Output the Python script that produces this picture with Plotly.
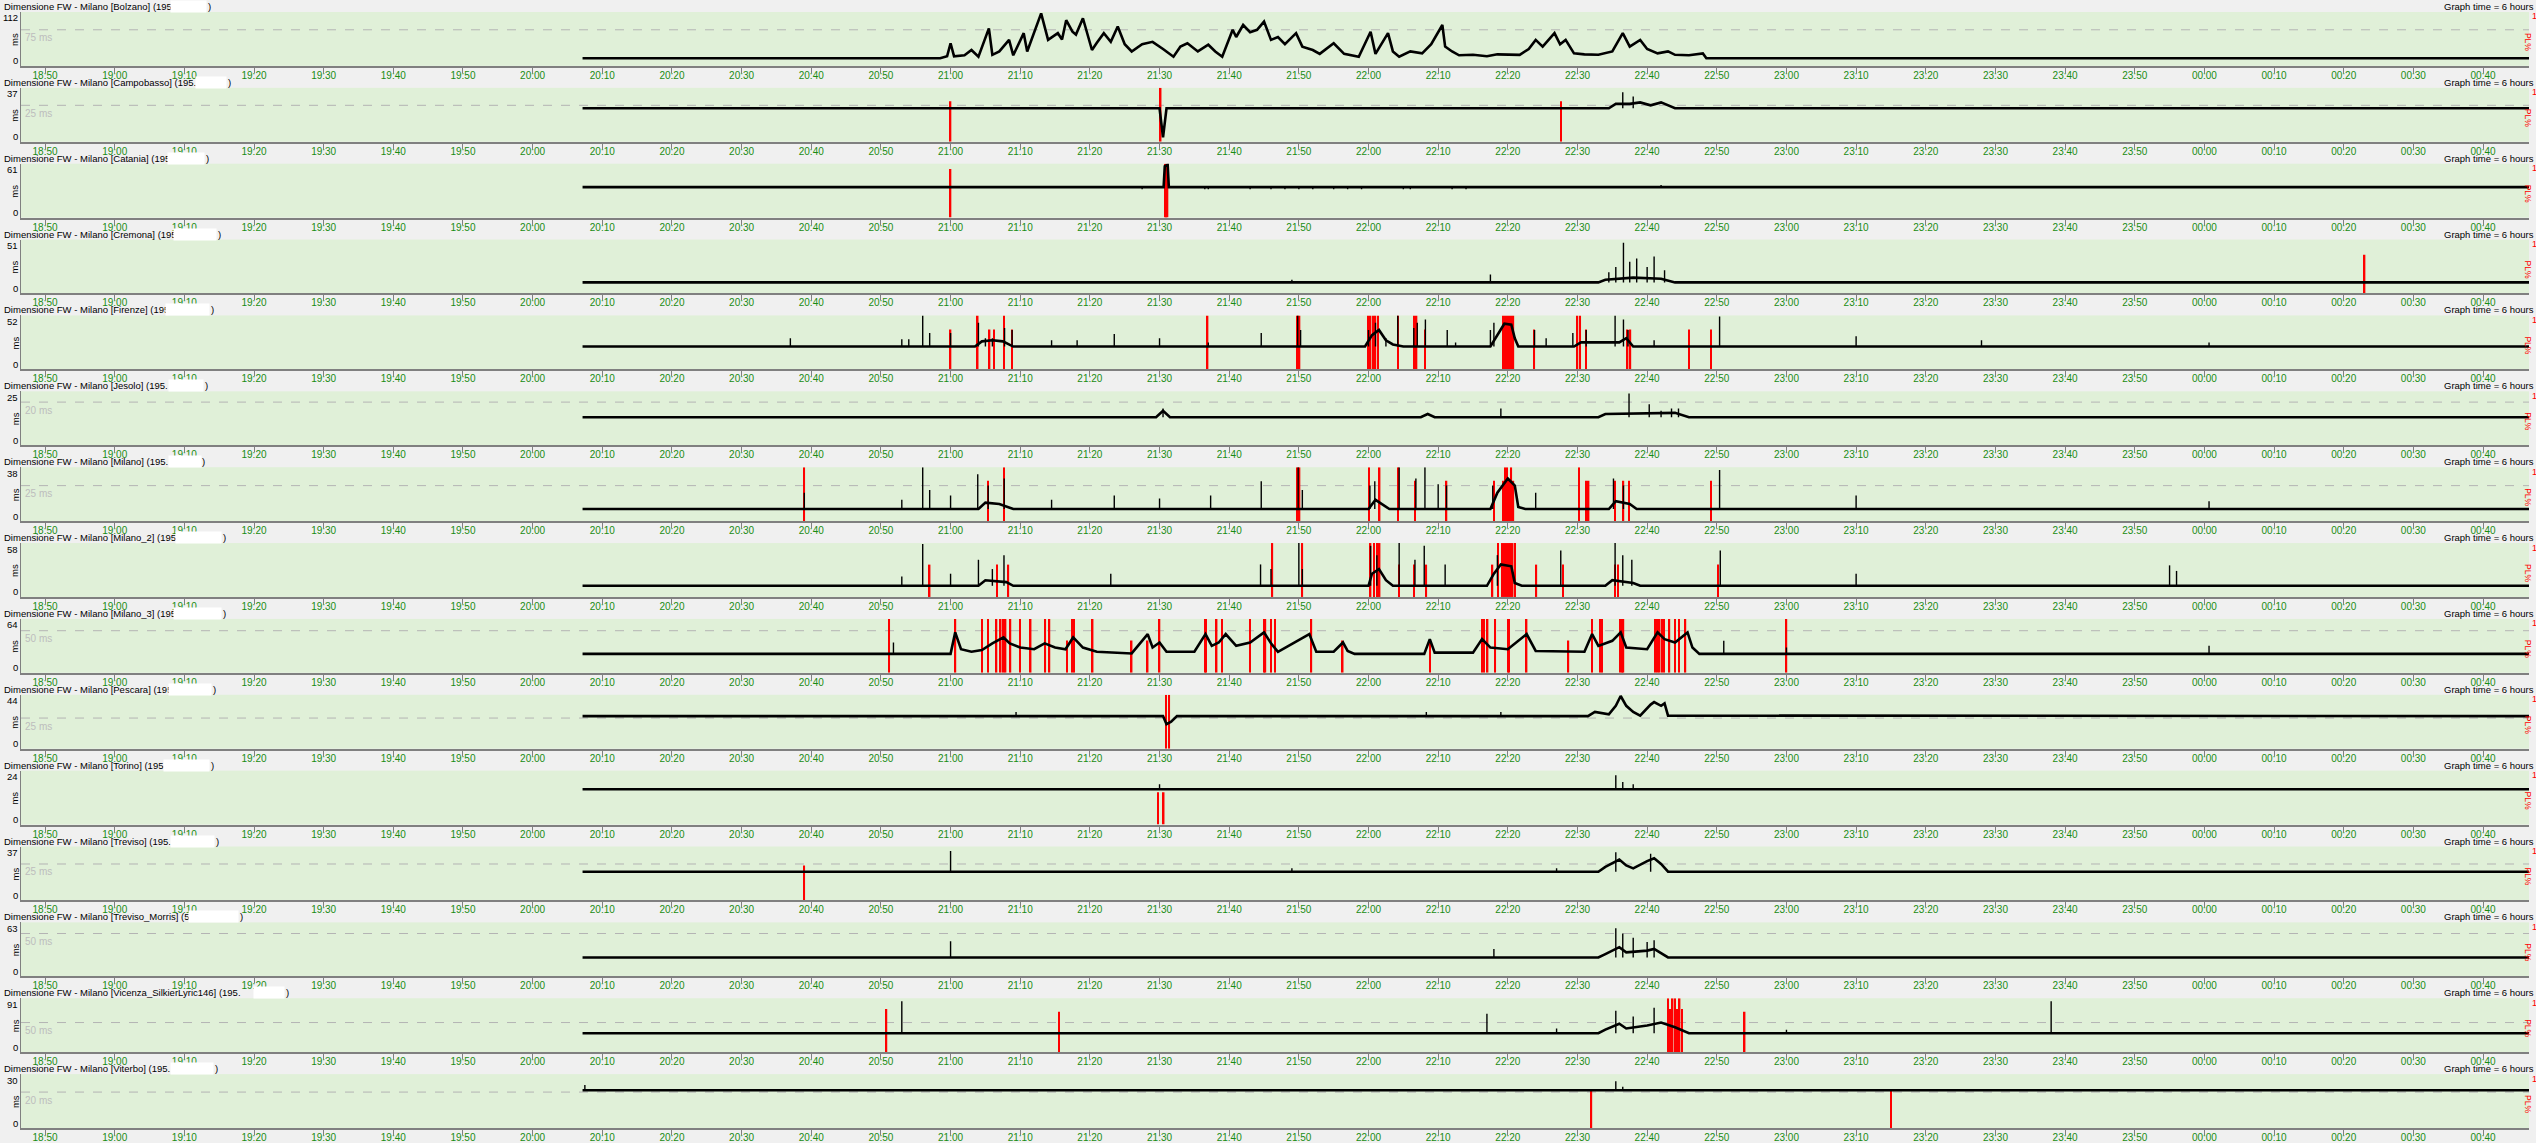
import plotly.graph_objects as go

FONT = "Liberation Sans, Arial, sans-serif"
W, H = 2536, 1143
X0, X1 = "2024-01-01 18:46:33", "2024-01-02 00:46:36"
T_START, T_END = "20:07:10", "00:46:40"

# ---------------- panel meta ----------------
NAMES = ["Bolzano", "Campobasso", "Catania", "Cremona", "Firenze", "Jesolo", "Milano",
         "Milano_2", "Milano_3", "Pescara", "Torino", "Treviso", "Treviso_Morris",
         "Vicenza_SilkierLyric146", "Viterbo"]
IP_PREFIX = ["(195.", "(195.:", "(195.", "(195.", "(195.", "(195.", "(195.", "(195.",
             "(195.", "(195.", "(195", "(195.", "(5.", "(195.", "(195."]
Y_MAX = [112, 37, 61, 51, 52, 25, 38, 58, 64, 44, 24, 37, 63, 91, 30]
REF_MS = [75, 25, None, None, None, 20, 25, None, 50, 25, None, 25, 50, 50, 20]
BASE_MS = [16, 23, 34.5, 10.5, 22, 13, 8.5, 12, 22.5, 26.6, 15.7, 19.7, 22, 32, 21]

# ---------------- latency lines (keypoints) ----------------
BOLZANO_T = [T_START, "20:58:30", "20:59:30", "21:00:00", "21:00:30", "21:02:00", "21:03:00", "21:04:00",
             "21:05:30", "21:06:00", "21:07:00", "21:08:24", "21:09:00", "21:10:30", "21:11:00", "21:12:00",
             "21:13:00", "21:14:00", "21:15:24", "21:16:00", "21:16:36", "21:17:30", "21:18:00", "21:19:00",
             "21:20:18", "21:21:00", "21:22:00", "21:23:00", "21:24:00", "21:25:00", "21:26:00", "21:27:30",
             "21:29:00", "21:30:30", "21:32:00", "21:33:00", "21:34:00", "21:35:30", "21:37:00", "21:38:00",
             "21:39:00", "21:40:30", "21:41:00", "21:42:00", "21:43:00", "21:44:00", "21:45:00", "21:46:00",
             "21:47:00", "21:48:00", "21:49:36", "21:50:30", "21:52:00", "21:53:00", "21:55:00", "21:56:30",
             "21:58:36", "22:00:18", "22:01:00", "22:02:48", "22:03:30", "22:04:24", "22:06:00", "22:07:42",
             "22:09:00", "22:10:36", "22:11:00", "22:12:00", "22:13:00", "22:15:00", "22:17:00", "22:18:30",
             "22:20:00", "22:21:42", "22:23:00", "22:24:00", "22:25:00", "22:26:42", "22:27:30", "22:28:18",
             "22:29:30", "22:31:00", "22:33:00", "22:35:00", "22:36:30", "22:37:30", "22:39:00", "22:40:00",
             "22:41:30", "22:43:00", "22:44:00", "22:46:00", "22:48:00", "22:48:30", T_END]
BOLZANO_V = [16, 16, 20, 47, 20, 22, 33, 19,
             78, 23, 30, 54, 22, 68, 30, 71,
             109, 54, 68, 55, 95, 71, 65, 99,
             33, 48, 68, 50, 82, 45, 30, 45,
             50, 35, 19, 40, 47, 30, 44, 30,
             19, 75, 60, 85, 70, 75, 92, 54,
             60, 45, 68, 40, 33, 25, 47, 25,
             19, 71, 25, 68, 30, 19, 30, 26,
             45, 85, 40, 30, 22, 23, 20, 24,
             23, 23, 35, 54, 40, 68, 45, 54,
             26, 24, 23, 30, 68, 40, 54, 35,
             26, 30, 23, 22, 26, 16, 16]
CAMPOBASSO_T = [T_START, "21:30:00", "21:30:30", "21:31:00", "22:34:30", "22:35:30", "22:37:30", "22:39:00",
                "22:40:30", "22:42:00", "22:44:00", T_END]
CAMPOBASSO_V = [23, 23, 3, 23, 23, 26, 26, 27, 25, 27, 23, 23]
CATANIA_T = [T_START, "21:30:35", "21:30:45", "21:31:10", "21:31:20", T_END]
CATANIA_V = [34.5, 34.5, 58, 60, 34.5, 34.5]
CREMONA_T = [T_START, "22:33:00", "22:34:00", "22:38:00", "22:42:00", "22:44:00", T_END]
CREMONA_V = [10.5, 10.5, 13, 15, 14, 10.5, 10.5]
FIRENZE_T = [T_START, "21:03:30", "21:04:30", "21:06:00", "21:07:30", "21:09:00", "21:59:30", "22:00:30",
             "22:01:30", "22:02:30", "22:03:30", "22:05:00", "22:17:30", "22:18:30", "22:19:30", "22:20:30",
             "22:21:00", "22:21:30", "22:29:30", "22:30:30", "22:36:00", "22:37:00", "22:38:00", T_END]
FIRENZE_V = [22, 22, 27, 28, 27, 22, 22, 33, 38, 28, 24, 22, 22, 33, 44, 43, 30, 22, 22, 26, 26, 30, 22, 22]
JESOLO_T = [T_START, "21:29:30", "21:30:30", "21:31:30", "22:07:30", "22:08:30", "22:09:30", "22:33:00",
            "22:34:00", "22:44:00", "22:46:00", T_END]
JESOLO_V = [13, 13, 16, 13, 13, 14.5, 13, 13, 14.5, 15, 13, 13]
MILANO_T = [T_START, "21:04:00", "21:05:00", "21:07:00", "21:09:00", "22:00:00", "22:01:00", "22:02:00",
            "22:03:00", "22:17:30", "22:18:30", "22:20:00", "22:21:00", "22:21:30", "22:22:30", "22:34:30",
            "22:35:30", "22:37:30", "22:38:30", T_END]
MILANO_V = [8.5, 8.5, 13, 12, 8.5, 8.5, 15, 12, 8.5, 8.5, 20, 30, 25, 10, 8.5, 8.5, 14, 12, 8.5, 8.5]
MILANO2_T = [T_START, "21:04:00", "21:05:00", "21:08:00", "21:09:00", "22:00:00", "22:00:30", "22:01:30",
             "22:02:30", "22:03:30", "22:17:00", "22:18:00", "22:19:00", "22:20:30", "22:21:00", "22:22:00",
             "22:34:00", "22:35:00", "22:38:00", "22:39:00", T_END]
MILANO2_V = [12, 12, 18, 16, 12, 12, 25, 30, 18, 12, 12, 25, 35, 33, 15, 12, 12, 18, 15, 12, 12]
MILANO3_T = [T_START, "21:00:00", "21:00:40", "21:01:30", "21:03:00", "21:04:30", "21:06:00", "21:07:36",
             "21:08:30", "21:10:00", "21:12:00", "21:13:30", "21:15:00", "21:16:30", "21:17:36", "21:19:00",
             "21:21:00", "21:26:00", "21:28:18", "21:29:00", "21:30:00", "21:31:00", "21:35:00", "21:36:36",
             "21:37:30", "21:38:30", "21:39:30", "21:41:00", "21:43:00", "21:45:00", "21:46:00", "21:47:00",
             "21:51:30", "21:52:30", "21:55:00", "21:56:20", "21:57:00", "21:58:00", "22:08:00", "22:08:48",
             "22:09:30", "22:15:00", "22:16:18", "22:17:30", "22:20:00", "22:22:42", "22:24:00", "22:31:00",
             "22:32:06", "22:33:00", "22:35:00", "22:36:12", "22:37:00", "22:40:00", "22:41:30", "22:42:30",
             "22:44:00", "22:45:48", "22:46:30", "22:47:30", T_END]
MILANO3_V = [22.5, 22.5, 48, 28, 25, 27, 35, 42,
             35, 30, 28, 35, 30, 28, 42, 30,
             25, 23, 46, 30, 36, 25, 25, 46,
             32, 36, 46, 32, 36, 48, 35, 25,
             46, 25, 25, 36, 26, 22.5, 22.5, 40,
             24, 24, 40, 30, 28, 46, 26, 25,
             46, 32, 38, 48, 30, 28, 48, 40,
             36, 48, 30, 22.5, 22.5]
PESCARA_T = [T_START, "21:30:30", "21:31:00", "21:31:40", "21:32:30", "22:31:30", "22:32:30", "22:34:30",
             "22:35:30", "22:36:12", "22:37:00", "22:38:00", "22:39:00", "22:40:30", "22:41:00", "22:42:00",
             "22:42:30", "22:43:00", T_END]
PESCARA_V = [26.6, 26.6, 20, 22, 26.6, 26.6, 30, 28, 35, 43, 35, 30, 27, 36, 38, 35, 37, 27, 26.6]
TORINO_T = [T_START, T_END]
TORINO_V = [15.7, 15.7]
TREVISO_T = [T_START, "22:33:00", "22:34:00", "22:36:00", "22:37:00", "22:38:00", "22:40:00", "22:41:00",
             "22:42:00", "22:43:00", T_END]
TREVISO_V = [19.7, 19.7, 23, 28, 24, 22, 27, 29, 25, 19.7, 19.7]
MORRIS_T = [T_START, "22:33:00", "22:34:00", "22:36:00", "22:37:00", "22:40:00", "22:41:00", "22:43:00", T_END]
MORRIS_V = [22, 22, 26, 34, 28, 30, 32, 22, 22]
VICENZA_T = [T_START, "22:33:00", "22:34:00", "22:36:00", "22:37:00", "22:40:00", "22:42:00", "22:44:00",
             "22:46:00", T_END]
VICENZA_V = [32, 32, 38, 48, 40, 45, 50, 42, 32, 32]
VITERBO_T = [T_START, T_END]
VITERBO_V = [21, 21]

# ---------------- isolated latency spikes ----------------
BOLZANO_SPIKE_T, BOLZANO_SPIKE_V = [], []
CAMPOBASSO_SPIKE_T = ["22:36:30", "22:38:00"]
CAMPOBASSO_SPIKE_V = [34, 31]
CATANIA_SPIKE_T = ["21:27:30", "21:36:30", "21:37:00", "21:43:00", "21:46:00", "21:48:00", "21:50:00",
                   "21:52:00", "21:55:00", "21:57:00", "21:59:00", "22:05:00", "22:06:00", "22:12:00",
                   "22:14:00", "22:42:00"]
CATANIA_SPIKE_V = [32, 32, 32, 32, 32, 32, 32, 32, 32, 32, 32, 32, 32, 32, 32, 37]
CREMONA_SPIKE_T = ["21:49:00", "22:17:30", "22:34:30", "22:35:30", "22:36:36", "22:37:30", "22:38:30",
                   "22:40:00", "22:41:00", "22:42:30"]
CREMONA_SPIKE_V = [13, 18, 20, 25, 48, 30, 33, 25, 35, 22]
FIRENZE_SPIKE_T = ["20:37:00", "20:53:00", "20:54:00", "20:56:00", "20:57:00", "21:00:00", "21:04:00",
                   "21:05:00", "21:06:00", "21:07:45", "21:08:50", "21:14:30", "21:18:10", "21:23:30",
                   "21:30:00", "21:37:00", "21:44:36", "21:49:50", "21:50:15", "22:00:00", "22:01:00",
                   "22:02:30", "22:04:12", "22:06:30", "22:07:00", "22:08:10", "22:11:18", "22:12:30",
                   "22:17:30", "22:18:00", "22:23:50", "22:25:30", "22:29:20", "22:31:15", "22:35:24",
                   "22:36:36", "22:37:15", "22:41:00", "22:50:24", "23:10:00", "23:28:00", "00:00:40"]
FIRENZE_SPIKE_V = [30, 29, 29, 52, 35, 35, 45, 30, 30, 40, 38, 28, 28, 34,
                   30, 26, 35, 52, 38, 38, 45, 30, 52, 40, 45, 48, 38, 26,
                   38, 45, 38, 30, 35, 38, 52, 48, 38, 28, 51, 32, 28, 26]
JESOLO_SPIKE_T = ["21:30:30", "22:19:00", "22:37:24", "22:40:18", "22:42:00", "22:43:30", "22:44:30"]
JESOLO_SPIKE_V = [17, 17, 24, 19, 16, 17, 17]
MILANO_SPIKE_T = ["20:39:00", "20:53:00", "20:56:00", "20:57:00", "21:00:00", "21:03:54", "21:05:24",
                  "21:07:42", "21:14:30", "21:23:30", "21:30:00", "21:37:20", "21:44:36", "21:49:54",
                  "21:50:30", "22:00:12", "22:00:54", "22:04:24", "22:06:48", "22:08:06", "22:10:00",
                  "22:11:12", "22:17:50", "22:24:00", "22:35:10", "22:36:36", "22:50:24", "23:10:00",
                  "00:00:40"]
MILANO_SPIKE_V = [20, 15, 38, 22, 18, 33, 25, 30, 15, 18, 16, 18, 28, 38,
                  22, 25, 28, 38, 30, 38, 26, 25, 25, 20, 30, 25, 36, 18, 14]
MILANO2_SPIKE_T = ["20:53:00", "20:56:00", "21:00:00", "21:04:00", "21:06:00", "21:07:40", "21:23:00",
                   "21:44:30", "21:46:00", "21:50:00", "21:50:30", "22:00:18", "22:01:12", "22:04:24",
                   "22:06:40", "22:08:00", "22:11:00", "22:18:30", "22:27:36", "22:35:24", "22:36:30",
                   "22:37:48", "22:50:30", "23:10:00", "23:55:00", "23:56:00"]
MILANO2_SPIKE_V = [22, 57, 25, 40, 30, 45, 25, 35, 30, 58, 30, 55, 45, 58,
                   40, 55, 35, 45, 50, 58, 45, 40, 50, 25, 34, 28]
MILANO3_SPIKE_T = ["20:51:48", "22:51:00", "23:00:00", "00:00:40"]
MILANO3_SPIKE_V = [36, 38, 30, 32]
PESCARA_SPIKE_T = ["21:09:24", "22:08:18", "22:19:00"]
PESCARA_SPIKE_V = [30, 30, 30]
TORINO_SPIKE_T = ["21:30:00", "22:35:30", "22:36:30", "22:38:00"]
TORINO_SPIKE_V = [18, 22, 19, 18]
TREVISO_SPIKE_T = ["21:00:00", "21:49:00", "22:27:00", "22:35:30", "22:40:30"]
TREVISO_SPIKE_V = [34, 22, 22, 33, 32]
MORRIS_SPIKE_T = ["21:00:00", "22:18:00", "22:35:30", "22:36:30", "22:38:00", "22:40:00", "22:41:00"]
MORRIS_SPIKE_V = [41, 32, 56, 50, 45, 40, 42]
VICENZA_SPIKE_T = ["20:53:00", "22:17:00", "22:27:00", "22:35:30", "22:38:00", "22:41:00", "23:00:00",
                   "23:38:00"]
VICENZA_SPIKE_V = [86, 65, 40, 70, 60, 75, 38, 86]
VITERBO_SPIKE_T = ["20:07:30", "22:35:30", "22:36:30"]
VITERBO_SPIKE_V = [24, 26, 23]

# ---------------- packet loss (PL%, 0..1) ----------------
BOLZANO_LOSS_T, BOLZANO_LOSS_H = [], []
CAMPOBASSO_LOSS_T = ["21:00:00", "21:30:10", "22:27:40"]
CAMPOBASSO_LOSS_H = [0.75, 1.0, 0.75]
CATANIA_LOSS_T = ["21:00:00", "21:30:45", "21:30:57", "21:31:09"]
CATANIA_LOSS_H = [0.9, 1.0, 1.0, 1.0]
CREMONA_LOSS_T = ["00:23:00"]
CREMONA_LOSS_H = [0.72]
FIRENZE_LOSS_T = ["21:00:00", "21:03:54", "21:05:36", "21:06:12", "21:07:42", "21:08:48", "21:36:54",
                  "21:49:48", "21:50:06", "21:59:54", "22:00:18", "22:00:42", "22:01:00", "22:01:24",
                  "22:04:12", "22:06:30", "22:06:54", "22:08:06", "22:19:18", "22:19:36", "22:19:54",
                  "22:20:12", "22:20:30", "22:20:48", "22:23:48", "22:30:00", "22:30:24", "22:31:12",
                  "22:37:12", "22:37:36", "22:46:00", "22:49:12"]
FIRENZE_LOSS_H = [0.74, 1.0, 0.74, 0.74, 1.0, 0.74, 1.0, 1.0, 1.0, 1.0, 1.0, 1.0, 1.0, 1.0,
                  1.0, 1.0, 1.0, 0.74, 1.0, 1.0, 1.0, 1.0, 1.0, 1.0, 0.74, 1.0, 1.0, 0.74,
                  0.74, 0.74, 0.74, 0.74]
JESOLO_LOSS_T, JESOLO_LOSS_H = [], []
MILANO_LOSS_T = ["20:39:00", "21:05:24", "21:07:42", "21:49:48", "21:50:06", "22:00:06", "22:01:36",
                 "22:04:12", "22:06:42", "22:11:12", "22:18:00", "22:19:18", "22:19:36", "22:19:54",
                 "22:20:12", "22:20:30", "22:20:48", "22:30:12", "22:31:12", "22:31:36", "22:35:24",
                 "22:36:36", "22:37:24", "22:49:12"]
MILANO_LOSS_H = [1.0, 0.75, 1.0, 1.0, 1.0, 1.0, 1.0, 1.0, 0.75, 0.75, 0.75, 0.75, 1.0, 1.0,
                 0.75, 1.0, 0.75, 1.0, 0.75, 0.75, 0.75, 0.75, 0.75, 0.75]
MILANO2_LOSS_T = ["20:57:00", "21:06:42", "21:08:18", "21:46:12", "21:50:30", "22:00:18", "22:00:48",
                  "22:01:12", "22:01:36", "22:04:24", "22:06:30", "22:08:18", "22:17:48", "22:18:36",
                  "22:19:12", "22:19:30", "22:19:48", "22:20:06", "22:20:24", "22:20:42", "22:21:00",
                  "22:24:06", "22:27:54", "22:35:24", "22:35:48", "22:50:12"]
MILANO2_LOSS_H = [0.6, 0.6, 0.6, 1.0, 1.0, 1.0, 1.0, 1.0, 1.0, 0.6, 0.6, 0.6, 0.6, 1.0,
                  1.0, 1.0, 1.0, 1.0, 1.0, 1.0, 1.0, 0.6, 0.6, 0.6, 0.6, 0.6]
MILANO3_LOSS_T = ["20:51:12", "21:00:42", "21:04:30", "21:05:24", "21:06:36", "21:07:12", "21:07:36",
                  "21:07:54", "21:08:36", "21:10:00", "21:11:30", "21:13:36", "21:14:12", "21:16:42",
                  "21:17:30", "21:17:42", "21:20:24", "21:26:00", "21:28:18", "21:30:00", "21:36:30",
                  "21:36:42", "21:38:12", "21:39:00", "21:43:00", "21:45:00", "21:45:12", "21:46:00",
                  "21:46:36", "21:51:48", "21:56:18", "22:08:48", "22:16:18", "22:16:36", "22:17:06",
                  "22:18:12", "22:20:00", "22:20:12", "22:22:42", "22:28:42", "22:32:06", "22:33:18",
                  "22:33:30", "22:36:12", "22:36:24", "22:36:36", "22:41:12", "22:41:30", "22:41:48",
                  "22:42:06", "22:42:24", "22:43:12", "22:44:00", "22:44:36", "22:45:30", "23:00:00"]
MILANO3_LOSS_H = [1.0, 1.0, 1.0, 1.0, 1.0, 1.0, 1.0, 1.0, 1.0, 1.0, 1.0, 1.0, 1.0, 0.6,
                  1.0, 1.0, 1.0, 0.6, 0.6, 1.0, 1.0, 1.0, 1.0, 1.0, 1.0, 1.0, 1.0, 1.0,
                  1.0, 1.0, 0.6, 0.6, 1.0, 1.0, 1.0, 1.0, 1.0, 1.0, 1.0, 0.6, 1.0, 1.0,
                  1.0, 1.0, 1.0, 1.0, 1.0, 1.0, 1.0, 1.0, 1.0, 1.0, 1.0, 1.0, 1.0, 1.0]
PESCARA_LOSS_T = ["21:30:54", "21:31:24"]
PESCARA_LOSS_H = [1.0, 1.0]
TORINO_LOSS_T = ["21:29:48", "21:30:36"]
TORINO_LOSS_H = [0.6, 0.6]
TREVISO_LOSS_T = ["20:39:00"]
TREVISO_LOSS_H = [0.65]
MORRIS_LOSS_T, MORRIS_LOSS_H = [], []
VICENZA_LOSS_T = ["20:50:48", "21:15:36", "22:43:00", "22:43:20", "22:43:40", "22:44:00", "22:44:20",
                  "22:44:40", "22:45:00", "22:54:00"]
VICENZA_LOSS_H = [0.8, 0.75, 1.0, 0.8, 1.0, 1.0, 0.8, 1.0, 0.8, 0.75]
VITERBO_LOSS_T = ["22:32:00", "23:15:00"]
VITERBO_LOSS_H = [0.7, 0.7]

LINES = [(BOLZANO_T, BOLZANO_V), (CAMPOBASSO_T, CAMPOBASSO_V), (CATANIA_T, CATANIA_V), (CREMONA_T, CREMONA_V),
         (FIRENZE_T, FIRENZE_V), (JESOLO_T, JESOLO_V), (MILANO_T, MILANO_V), (MILANO2_T, MILANO2_V),
         (MILANO3_T, MILANO3_V), (PESCARA_T, PESCARA_V), (TORINO_T, TORINO_V), (TREVISO_T, TREVISO_V),
         (MORRIS_T, MORRIS_V), (VICENZA_T, VICENZA_V), (VITERBO_T, VITERBO_V)]
SPIKES = [(BOLZANO_SPIKE_T, BOLZANO_SPIKE_V), (CAMPOBASSO_SPIKE_T, CAMPOBASSO_SPIKE_V),
          (CATANIA_SPIKE_T, CATANIA_SPIKE_V), (CREMONA_SPIKE_T, CREMONA_SPIKE_V),
          (FIRENZE_SPIKE_T, FIRENZE_SPIKE_V), (JESOLO_SPIKE_T, JESOLO_SPIKE_V),
          (MILANO_SPIKE_T, MILANO_SPIKE_V), (MILANO2_SPIKE_T, MILANO2_SPIKE_V),
          (MILANO3_SPIKE_T, MILANO3_SPIKE_V), (PESCARA_SPIKE_T, PESCARA_SPIKE_V),
          (TORINO_SPIKE_T, TORINO_SPIKE_V), (TREVISO_SPIKE_T, TREVISO_SPIKE_V),
          (MORRIS_SPIKE_T, MORRIS_SPIKE_V), (VICENZA_SPIKE_T, VICENZA_SPIKE_V),
          (VITERBO_SPIKE_T, VITERBO_SPIKE_V)]
LOSSES = [(BOLZANO_LOSS_T, BOLZANO_LOSS_H), (CAMPOBASSO_LOSS_T, CAMPOBASSO_LOSS_H),
          (CATANIA_LOSS_T, CATANIA_LOSS_H), (CREMONA_LOSS_T, CREMONA_LOSS_H),
          (FIRENZE_LOSS_T, FIRENZE_LOSS_H), (JESOLO_LOSS_T, JESOLO_LOSS_H),
          (MILANO_LOSS_T, MILANO_LOSS_H), (MILANO2_LOSS_T, MILANO2_LOSS_H),
          (MILANO3_LOSS_T, MILANO3_LOSS_H), (PESCARA_LOSS_T, PESCARA_LOSS_H),
          (TORINO_LOSS_T, TORINO_LOSS_H), (TREVISO_LOSS_T, TREVISO_LOSS_H),
          (MORRIS_LOSS_T, MORRIS_LOSS_H), (VICENZA_LOSS_T, VICENZA_LOSS_H),
          (VITERBO_LOSS_T, VITERBO_LOSS_H)]

# redaction box extents (px) for the hidden addresses
BOX_X = [(170, 205), (195, 225), (167, 203), (173, 215), (165, 208), (168, 202), (168, 200), (175, 220),
         (173, 220), (168, 210), (163, 208), (170, 213), (188, 237), (253, 283), (170, 212)]


def ts(s):
    parts = [int(p) for p in s.split(":")] + [0]
    h, m, sec = parts[0], parts[1], parts[2]
    day = 2 if h < 12 else 1
    return f"2024-01-0{day} {h:02d}:{m:02d}:{sec:02d}"


def ax(prefix, n):
    return prefix if n == 1 else f"{prefix}{n}"


PANEL_TOP, PANEL_STEP, PLOT_H = 12, 76, 54
GREEN_BG = "#e0f0d8"
TICK_GREEN = "#198c12"
GRAY = "#808080"
FS = 9.5

fig = go.Figure()
layout = dict(
    width=W, height=H, margin=dict(l=0, r=0, t=0, b=0),
    paper_bgcolor="#f0f0f0", plot_bgcolor=GREEN_BG, showlegend=False,
    font=dict(family=FONT, size=FS, color="#000000"), barmode="overlay",
)
annotations, shapes = [], []

for k in range(15):
    xn, ypl, yms = k + 1, 2 * k + 1, 2 * k + 2
    top = PANEL_TOP + PANEL_STEP * k
    bot = top + PLOT_H
    dom = [1 - bot / H, 1 - top / H]
    ymax, ref, base = Y_MAX[k], REF_MS[k], BASE_MS[k]

    layout[ax("xaxis", xn)] = dict(
        type="date", domain=[21 / W, 2529 / W], range=[X0, X1], anchor=ax("y", ypl),
        tick0="2024-01-01 18:50:00", dtick=600000, tickformat="%H:%M",
        tickfont=dict(color=TICK_GREEN, size=10, family=FONT), ticks="outside", ticklen=5,
        tickcolor=GRAY, showline=True, linecolor=GRAY, linewidth=2, showgrid=False,
        zeroline=False, ticklabelstandoff=-6,
    )
    layout[ax("yaxis", ypl)] = dict(domain=dom, range=[0, 1], anchor=ax("x", xn), visible=False,
                                   fixedrange=True)
    layout[ax("yaxis", yms)] = dict(overlaying=ax("y", ypl), range=[0, ymax], anchor=ax("x", xn),
                                   side="left", showline=True, linecolor=GRAY, linewidth=1,
                                   showticklabels=False, ticks="", showgrid=False, zeroline=False)

    # packet loss bars (PL% axis, drawn underneath)
    lt, lh = LOSSES[k]
    fig.add_trace(go.Bar(x=[ts(t) for t in lt], y=lh, width=13000, marker=dict(color="#ff0000", line_width=0),
                         xaxis=ax("x", xn), yaxis=ax("y", ypl), hoverinfo="skip"))
    # latency line
    tt, vv = LINES[k]
    fig.add_trace(go.Scatter(x=[ts(t) for t in tt], y=vv, mode="lines",
                             line=dict(color="#000000", width=2.6), xaxis=ax("x", xn), yaxis=ax("y", yms)))
    # isolated spikes
    st, sv = SPIKES[k]
    sx, sy = [], []
    for t, v in zip(st, sv):
        sx += [ts(t), ts(t), None]
        sy += [base, v, None]
    fig.add_trace(go.Scatter(x=sx, y=sy, mode="lines", line=dict(color="#000000", width=1.4),
                             xaxis=ax("x", xn), yaxis=ax("y", yms)))

    if ref is not None:
        shapes.append(dict(type="line", xref=f"{ax('x', xn)} domain", x0=0, x1=1, yref=ax("y", yms),
                           y0=ref, y1=ref, line=dict(color="#b4b4b4", width=1, dash="dash"), layer="below"))
        annotations.append(dict(xref=f"{ax('x', xn)} domain", x=0, xshift=2, yref=ax("y", yms), y=ref,
                                yshift=-8, text=f"{ref} ms", showarrow=False, xanchor="left",
                                yanchor="middle", font=dict(color="#bdbdbd", size=10, family=FONT)))

    ty = 1 - (6.5 + PANEL_STEP * k) / H
    annotations.append(dict(xref="paper", yref="paper", x=2 / W, y=ty, xanchor="left", yanchor="middle",
                            text=f"Dimensione FW - Milano [{NAMES[k]}] {IP_PREFIX[k]}", showarrow=False,
                            font=dict(size=FS, family=FONT, color="#000000")))
    bx0, bx1 = BOX_X[k]
    annotations.append(dict(xref="paper", yref="paper", x=bx0 / W, y=ty, xanchor="left", yanchor="middle",
                            text=" ", width=bx1 - bx0, height=11, bgcolor="#ffffff", borderpad=0,
                            showarrow=False))
    annotations.append(dict(xref="paper", yref="paper", x=(bx1 + 0.5) / W, y=ty, xanchor="left",
                            yanchor="middle", text=")", showarrow=False,
                            font=dict(size=FS, family=FONT, color="#000000")))
    annotations.append(dict(xref="paper", yref="paper", x=1, y=ty, xanchor="right", yanchor="middle",
                            text="Graph time = 6 hours", showarrow=False,
                            font=dict(size=FS, family=FONT, color="#000000")))
    # y labels
    annotations.append(dict(xref="paper", yref="paper", x=19.5 / W, y=1 - (top + 6) / H, xanchor="right",
                            yanchor="middle", text=str(ymax), showarrow=False,
                            font=dict(size=FS, family=FONT, color="#000000")))
    annotations.append(dict(xref="paper", yref="paper", x=19.5 / W, y=1 - (bot - 5) / H, xanchor="right",
                            yanchor="middle", text="0", showarrow=False,
                            font=dict(size=FS, family=FONT, color="#000000")))
    annotations.append(dict(xref="paper", yref="paper", x=15 / W, y=1 - (top + 28) / H, xanchor="center",
                            yanchor="middle", text="ms", textangle=-90, showarrow=False,
                            font=dict(size=FS, family=FONT, color="#000000")))
    annotations.append(dict(xref="paper", yref="paper", x=2530 / W, y=1 - (top + 4.5) / H, xanchor="left",
                            yanchor="middle", text="1", showarrow=False,
                            font=dict(size=9, family=FONT, color="#ff0000")))
    annotations.append(dict(xref="paper", yref="paper", x=2535 / W, y=1 - (top + 30) / H, xanchor="right",
                            yanchor="middle", text="PL%", textangle=90, showarrow=False,
                            font=dict(size=8.5, family=FONT, color="#ff0000")))

layout["annotations"] = annotations
layout["shapes"] = shapes
fig.update_layout(**layout)

fig.write_html("out.html", config={"displayModeBar": False},
               post_script="document.body.style.margin='0px';document.body.style.overflow='hidden';")
